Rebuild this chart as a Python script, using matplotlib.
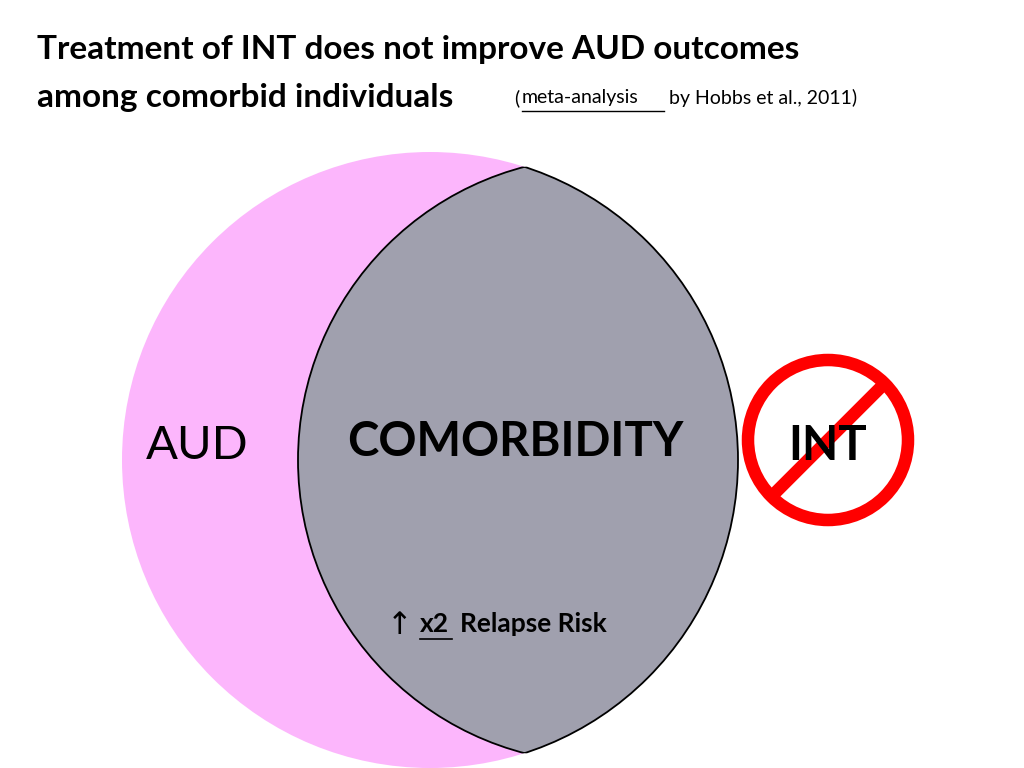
import matplotlib.pyplot as plt
from matplotlib.patches import Circle

plt.rcParams['font.family'] = ['Lato', 'DejaVu Sans']

title_lines = ['Treatment of INT does not improve AUD outcomes',
               'among comorbid individuals']
ref_link = 'meta-analysis'
ref_rest = 'by Hobbs et al., 2011)'
set_labels = ['AUD', 'COMORBIDITY', 'INT']
risk_factor = 'x2'
risk_text = 'Relapse Risk'

fig = plt.figure(figsize=(10.24, 7.68), dpi=100)
ax = fig.add_axes([0, 0, 1, 1])
ax.set_xlim(0, 1024)
ax.set_ylim(768, 0)
ax.set_aspect('equal')
ax.axis('off')

# AUD circle and the overlap lens (INT circle clipped to AUD)
aud = Circle((430, 460), 308, facecolor='#fcb6fc', edgecolor='none')
ax.add_patch(aud)
lens = Circle((601, 460), 303, facecolor='#a0a0ae', edgecolor='black', lw=1.3)
ax.add_patch(lens)
lens.set_clip_path(aud)
edge = Circle((430, 460), 308, facecolor='none', edgecolor='black', lw=1.3)
ax.add_patch(edge)
edge.set_clip_path(Circle((601, 460), 303, transform=ax.transData))

# title
ax.text(37, 50, title_lines[0], fontsize=24, fontweight='bold', va='center')
ax.text(37, 98, title_lines[1], fontsize=24, fontweight='bold', va='center')
ax.text(514, 98, '(', fontsize=14, va='center')
ax.text(522, 98, ref_link, fontsize=14, va='center')
ax.plot([522, 664], [111, 111], color='black', lw=1)
ax.text(669, 98, ref_rest, fontsize=14, va='center')

# labels
ax.text(197, 446, set_labels[0], fontsize=34, ha='center', va='center')
ax.text(515, 442, set_labels[1], fontsize=34, fontweight='bold', ha='center', va='center')
ax.text(828, 446, set_labels[2], fontsize=34, fontweight='bold', ha='center', va='center')

# no sign over INT
ax.add_patch(Circle((828, 440), 80, facecolor='none', edgecolor='#ff0000', lw=9))
ax.plot([884, 772], [384, 496], color='#ff0000', lw=9, solid_capstyle='butt')

# relapse risk
ax.text(400, 626, '\u2191', fontsize=22, ha='center', va='center', family=['DejaVu Sans'])
ax.text(420, 624, risk_factor, fontsize=19, fontweight='bold', va='center')
ax.plot([420, 452], [639, 639], color='black', lw=1.2)
ax.text(460, 624, risk_text, fontsize=19, fontweight='bold', va='center')

fig.savefig('out.png', dpi=100)
